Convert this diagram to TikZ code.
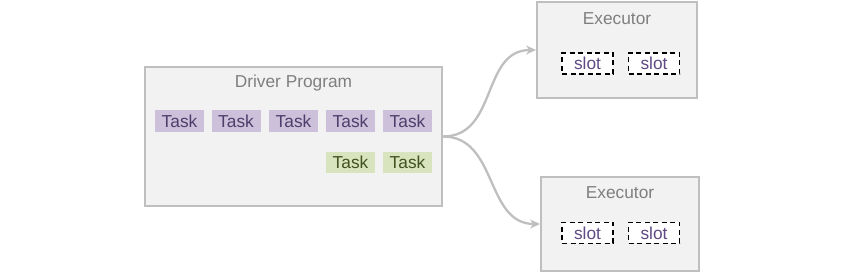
\documentclass[tikz,border=0pt]{standalone}
\usepackage{fontspec}
\setmainfont{Liberation Sans}
\usetikzlibrary{arrows.meta}
\definecolor{boxfill}{HTML}{F2F2F2}
\definecolor{boxline}{HTML}{BFBFBF}
\definecolor{titlegray}{HTML}{7F7F7F}
\definecolor{taskpurple}{HTML}{CCC0DA}
\definecolor{tasktxtp}{HTML}{4F3D6B}
\definecolor{taskgreen}{HTML}{D7E4BD}
\definecolor{tasktxtg}{HTML}{3F5220}
\definecolor{slottxt}{HTML}{5F4A85}
\tikzset{
  big/.style={draw=boxline, fill=boxfill, line width=1.8pt},
  ttl/.style={text=titlegray, font=\fontsize{17.3}{20}\selectfont, inner sep=0pt},
  ptask/.style={fill=taskpurple, text=tasktxtp, minimum width=49pt, minimum height=22pt, inner sep=0pt, font=\fontsize{17.3}{20}\selectfont},
  gtask/.style={fill=taskgreen, text=tasktxtg, minimum width=49pt, minimum height=21pt, inner sep=0pt, font=\fontsize{17.3}{20}\selectfont},
  slotbox/.style={draw=black, fill=white, dash pattern=on 5pt off 3.5pt, line width=1.8pt, text=slottxt, minimum width=51pt, minimum height=21pt, inner sep=0pt, font=\fontsize{17.3}{20}\selectfont},
  conn/.style={draw=boxline, line width=2.3pt, -{Stealth[length=10pt,width=9pt]}},
}
\begin{document}
\begin{tikzpicture}[x=1pt,y=-1pt]
\path[use as bounding box] (0,0) rectangle (844,275);
% driver
\node[big, minimum width=297pt, minimum height=139pt] (drv) at (293.5,136.5) {};
\node[ttl] (drvt) at (293.5,83) {Driver Program};
\node[ptask] (t1) at (179.5,121) {Task};
\node[ptask] (t2) at (236,121) {Task};
\node[ptask] (t3) at (293.5,121) {Task};
\node[ptask] (t4) at (350.5,121) {Task};
\node[ptask] (t5) at (407.5,121) {Task};
\node[gtask] (g1) at (350.5,162.5) {Task};
\node[gtask] (g2) at (407.5,162.5) {Task};
% executors
\node[big, minimum width=160pt, minimum height=96pt] (ex1) at (617,50) {};
\node[ttl] (ex1t) at (617,19) {Executor};
\node[slotbox] (s11) at (587.5,63.5) {slot};
\node[slotbox] (s12) at (654,63.5) {slot};
\node[big, minimum width=158pt, minimum height=94pt] (ex2) at (620,224) {};
\node[ttl] (ex2t) at (620,193) {Executor};
\node[slotbox] (s21) at (587.5,233) {slot};
\node[slotbox] (s22) at (654,233) {slot};
% connectors
\draw[conn] (drv.east) .. controls +(55,0) and +(-55,0) .. (ex1.west);
\draw[conn] (drv.east) .. controls +(55,0) and +(-55,0) .. (ex2.west);
\end{tikzpicture}
\end{document}
